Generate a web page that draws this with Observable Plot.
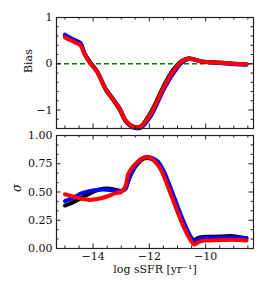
<!DOCTYPE html>
<html>
<head>
<meta charset="utf-8">
<script src="https://cdn.jsdelivr.net/npm/d3@7"></script>
<script src="https://cdn.jsdelivr.net/npm/@observablehq/plot@0.6"></script>
<style>
  html, body { margin: 0; padding: 0; background: #fff; }
  #chart { position: relative; width: 266px; height: 292px; background: #fff; }
  #chart svg { display: block; position: absolute; left: 0; font-family: "DejaVu Serif", serif !important; }
  #chart svg text { font-family: "DejaVu Serif", serif !important; }
</style>
</head>
<body>
<div id="chart"></div>
<script>
// ---- Top panel: Bias ----
const biasX = [-15.0, -14.75, -14.45, -14.3, -14.1, -13.85, -13.55, -13.3, -13.05, -12.85, -12.65, -12.5, -12.3, -12.1, -11.85, -11.5, -11.15, -10.85, -10.6, -10.4, -10.15, -9.8, -9.4, -9.0, -8.55];
const biasBlack = [0.61, 0.52, 0.43, 0.21, 0.02, -0.18, -0.56, -0.77, -1.0, -1.24, -1.35, -1.38, -1.35, -1.20, -0.94, -0.49, -0.13, 0.06, 0.12, 0.09, 0.05, 0.03, 0.02, 0.0, -0.01];
const biasBlue  = [0.63, 0.54, 0.45, 0.22, 0.03, -0.17, -0.54, -0.75, -0.97, -1.22, -1.35, -1.39, -1.38, -1.26, -1.02, -0.57, -0.21, 0.02, 0.10, 0.09, 0.05, 0.03, 0.01, -0.01, -0.02];
const biasRed   = [0.57, 0.49, 0.40, 0.20, 0.01, -0.18, -0.55, -0.76, -0.98, -1.22, -1.33, -1.37, -1.36, -1.22, -0.97, -0.52, -0.16, 0.05, 0.11, 0.09, 0.05, 0.03, 0.02, 0.0, -0.01];

// ---- Bottom panel: sigma ----
const sigX = [-15.0, -14.7, -14.4, -14.1, -13.8, -13.5, -13.2, -13.0, -12.85, -12.75, -12.6, -12.45, -12.3, -12.1, -11.9, -11.7, -11.5, -11.3, -11.1, -10.9, -10.7, -10.5, -10.4, -10.3, -10.15, -10.0, -9.7, -9.4, -9.1, -8.8, -8.55];
const sigBlack = [0.38, 0.41, 0.45, 0.49, 0.52, 0.53, 0.52, 0.51, 0.53, 0.60, 0.68, 0.74, 0.78, 0.80, 0.79, 0.75, 0.67, 0.55, 0.42, 0.29, 0.17, 0.09, 0.075, 0.09, 0.10, 0.104, 0.105, 0.107, 0.11, 0.10, 0.09];
const sigBlue  = [0.42, 0.45, 0.49, 0.51, 0.52, 0.52, 0.51, 0.51, 0.53, 0.60, 0.69, 0.75, 0.79, 0.81, 0.80, 0.77, 0.69, 0.57, 0.44, 0.31, 0.19, 0.09, 0.06, 0.075, 0.09, 0.095, 0.095, 0.097, 0.10, 0.097, 0.09];
const sigRed   = [0.48, 0.46, 0.44, 0.43, 0.44, 0.46, 0.49, 0.50, 0.55, 0.66, 0.72, 0.76, 0.79, 0.81, 0.79, 0.74, 0.65, 0.52, 0.39, 0.26, 0.15, 0.06, 0.035, 0.05, 0.065, 0.07, 0.072, 0.075, 0.077, 0.075, 0.07];

// ---- Ticks ----
const xMajor = [-14, -12, -10];
const xMinor = [-15, -14.5, -13.5, -13, -12.5, -11.5, -11, -10.5, -9.5, -9, -8.5];
const biasMajor = [-1, 0, 1];
const biasMinor = [-1.4, -1.2, -0.8, -0.6, -0.4, -0.2, 0.2, 0.4, 0.6, 0.8];
const sigMajor = [0, 0.25, 0.5, 0.75, 1.0];
const sigMinor = [1/12, 2/12, 4/12, 5/12, 7/12, 8/12, 10/12, 11/12];

const seriesColors = ["black", "#0000ff", "#ff0000"];

const W = 266;
const mL = 56, mR = 13;
const frameW = W - mL - mR;
const xDomain = [-15.3, -8.3];
const fmtMinus = d => String(d).replace("-", "\u2212");
const plotStyle = {fontFamily: "'DejaVu Serif', serif", fontSize: "11px", background: "transparent", color: "#111"};

function tickMarks(frameH, major, minor) {
  const tc = "#222";
  const maj = 4.5, mn = 2.5;
  return [
    Plot.tickX(xMajor, {x: d => d, insetTop: frameH - maj, stroke: tc}),
    Plot.tickX(xMajor, {x: d => d, insetBottom: frameH - maj, stroke: tc}),
    Plot.tickX(xMinor, {x: d => d, insetTop: frameH - mn, stroke: tc}),
    Plot.tickX(xMinor, {x: d => d, insetBottom: frameH - mn, stroke: tc}),
    Plot.tickY(major, {y: d => d, insetRight: frameW - maj, stroke: tc}),
    Plot.tickY(major, {y: d => d, insetLeft: frameW - maj, stroke: tc}),
    Plot.tickY(minor, {y: d => d, insetRight: frameW - mn, stroke: tc}),
    Plot.tickY(minor, {y: d => d, insetLeft: frameW - mn, stroke: tc})
  ];
}

function seriesLines(xs, ys) {
  return ys.map((arr, i) => Plot.line(xs.map((x, j) => ({x, y: arr[j]})), {
    x: "x", y: "y", stroke: seriesColors[i], strokeWidth: 4, curve: "catmull-rom"
  }));
}

// Top panel: svg at y=0, frame 17..128
const topH = 132, topMT = 17, topMB = 4;
const topFrameH = topH - topMT - topMB;
const topPlot = Plot.plot({
  width: W, height: topH,
  marginLeft: mL, marginRight: mR, marginTop: topMT, marginBottom: topMB,
  style: plotStyle,
  x: {domain: xDomain, axis: null},
  y: {domain: [-1.4, 1.0], axis: null},
  marks: [
    Plot.ruleY([0], {stroke: "#008000", strokeWidth: 1.5, strokeDasharray: "5,3"}),
    ...seriesLines(biasX, [biasBlack, biasBlue, biasRed]),
    ...tickMarks(topFrameH, biasMajor, biasMinor),
    Plot.axisY(biasMajor, {tickSize: 0, tickPadding: 4, tickFormat: fmtMinus, fontSize: 11, label: null}),
    Plot.text(["Bias"], {frameAnchor: "left", dx: -28, rotate: -90, text: d => d, fontSize: 11}),
    Plot.frame({stroke: "#222", strokeWidth: 1.2})
  ]
});

// Bottom panel: svg at y=120, frame 135..248
const botTop = 120;
const botH = 172, botMT = 15, botMB = 44;
const botFrameH = botH - botMT - botMB;
const botPlot = Plot.plot({
  width: W, height: botH,
  marginLeft: mL, marginRight: mR, marginTop: botMT, marginBottom: botMB,
  style: plotStyle,
  x: {domain: xDomain, axis: null},
  y: {domain: [0, 1.0], axis: null},
  marks: [
    ...seriesLines(sigX, [sigBlack, sigBlue, sigRed]),
    ...tickMarks(botFrameH, sigMajor, sigMinor),
    Plot.axisY(sigMajor, {tickSize: 0, tickPadding: 4, tickFormat: d => d.toFixed(2), fontSize: 11, label: null}),
    Plot.axisX(xMajor, {tickSize: 0, tickPadding: 3.5, tickFormat: fmtMinus, fontSize: 11, label: null}),
    Plot.text(["\u03c3"], {frameAnchor: "left", dx: -39, rotate: -90, text: d => d, fontSize: 12, fontStyle: "italic"}),
    Plot.text(["log sSFR [yr\u207b\u00b9]"], {frameAnchor: "bottom", dy: 24, text: d => d, fontSize: 11}),
    Plot.frame({stroke: "#222", strokeWidth: 1.2})
  ]
});

const chart = document.getElementById("chart");
topPlot.style.top = "0px";
botPlot.style.top = botTop + "px";
chart.appendChild(topPlot);
chart.appendChild(botPlot);
</script>
</body>
</html>
